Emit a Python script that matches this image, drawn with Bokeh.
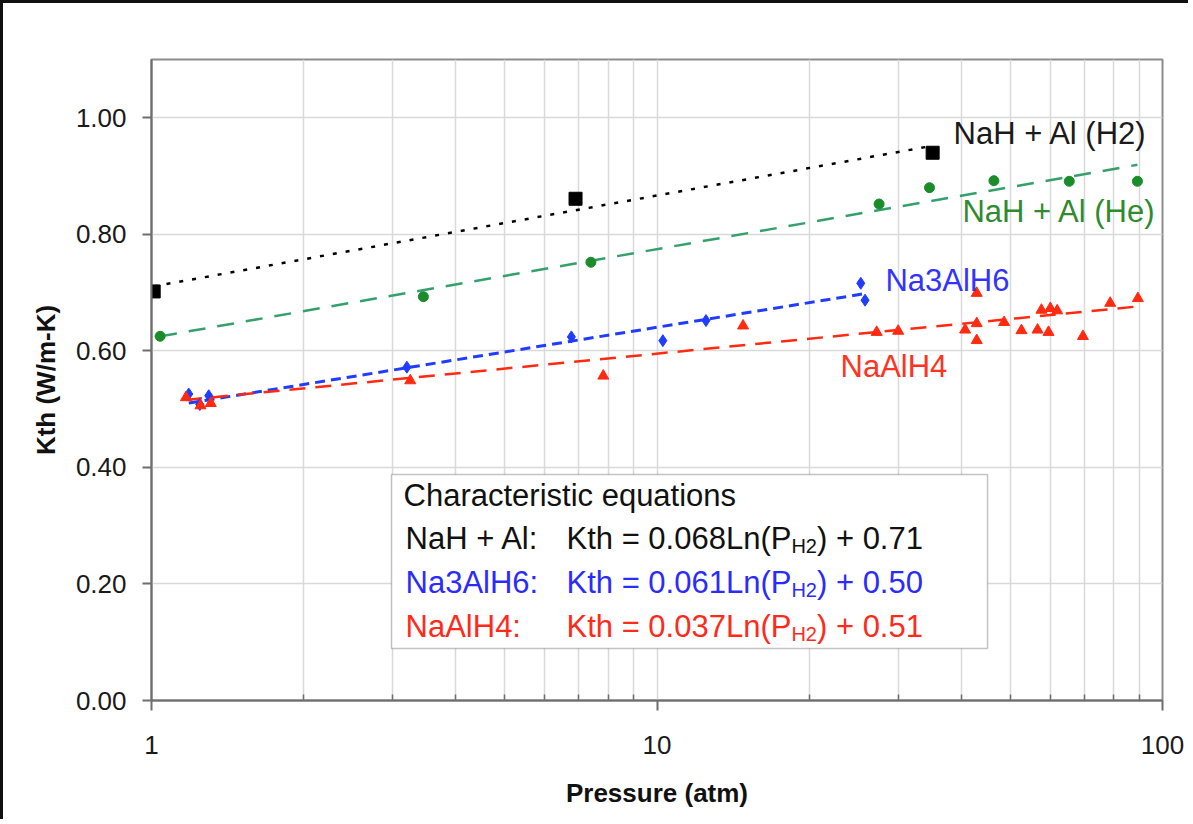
import numpy as np
from bokeh.plotting import figure
from bokeh.models import (FixedTicker, SingleIntervalTicker, NumeralTickFormatter,
                          BoxAnnotation, Range1d, Label)
from bokeh.embed import file_html
from bokeh.resources import INLINE

# ---------------- data ----------------
h2_p = [1.01, 6.9, 35.1]
h2_k = [0.702, 0.861, 0.940]

he_p = [1.04, 3.45, 7.4, 27.5, 34.6, 46.4, 65.4, 89.2]
he_k = [0.625, 0.693, 0.752, 0.852, 0.880, 0.892, 0.891, 0.891]

na3_p = [1.185, 1.246, 1.298, 3.2, 6.77, 10.27, 12.5, 25.3, 25.8]
na3_k = [0.526, 0.508, 0.523, 0.572, 0.624, 0.6175, 0.652, 0.716, 0.687]

na_p = [1.17, 1.25, 1.31, 3.25, 7.83, 14.8, 27.2, 30.0, 40.7, 42.9, 42.9, 42.9,
        48.6, 52.6, 56.6, 57.6, 59.5, 60.0, 61.9, 69.6, 78.8, 89.4]
na_k = [0.520, 0.506, 0.510, 0.549, 0.557, 0.643, 0.632, 0.634, 0.636, 0.699, 0.647, 0.618,
        0.649, 0.635, 0.636, 0.670, 0.632, 0.673, 0.669, 0.625, 0.682, 0.690]

# characteristic equations stated on the chart: Kth = a*Ln(P) + b
eq_names = ["NaH + Al:", "Na3AlH6:", "NaAlH4:"]
eq_slope = [0.068, 0.061, 0.037]
eq_icpt = [0.71, 0.50, 0.51]

x_ticks = [1, 10, 100]
x_minor = [m * d for d in (1, 10) for m in range(2, 10)]

FONT = "Liberation Sans"
C_BLACK = "#000000"
C_GREEN_M = "#1a8c2a"
C_GREEN_L = "#34a06c"
C_GREEN_T = "#2e8b2e"
C_BLUE = "#1f3cff"
C_BLUE_T = "#3333ff"
C_RED = "#ff2a10"
C_RED_T = "#ff3322"

p = figure(width=1188, height=819, x_axis_type="log",
           x_range=Range1d(1, 100), y_range=Range1d(0, 1.10),
           output_backend="svg", toolbar_location=None,
           min_border_left=148, min_border_right=29, min_border_top=56,
           min_border_bottom=122, background_fill_color="white",
           border_fill_color="white")
# outer picture frame: left and top edges
p.styles = {"border-left": "3px solid #111111", "border-top": "3px solid #111111"}

p.outline_line_color = "#8c8c8c"
p.outline_line_width = 2

# axes
xt = FixedTicker(ticks=x_ticks, minor_ticks=x_minor)
p.xaxis.ticker = xt
p.xgrid.ticker = xt
p.xaxis.formatter = NumeralTickFormatter(format="0")
yt = SingleIntervalTicker(interval=0.2, num_minor_ticks=0)
p.yaxis.ticker = yt
p.ygrid.ticker = yt
p.yaxis.formatter = NumeralTickFormatter(format="0.00")

for ax in (p.xaxis[0], p.yaxis[0]):
    ax.axis_line_color = "#6e6e6e"
    ax.axis_line_width = 2
    ax.major_tick_line_color = "#6e6e6e"
    ax.major_tick_line_width = 2
    ax.minor_tick_line_color = "#6e6e6e"
    ax.minor_tick_line_width = 1.5
    ax.major_label_text_font = FONT
    ax.major_label_text_font_size = "26px"
    ax.major_label_text_color = "#1a1a1a"
    ax.axis_label_text_font = FONT
    ax.axis_label_text_font_size = "26px"
    ax.axis_label_text_font_style = "bold"
    ax.axis_label_text_color = "#111111"
    ax.major_tick_in = 0

p.xaxis.major_tick_out = 10
p.xaxis.minor_tick_in = 6
p.xaxis.minor_tick_out = 0
p.xaxis.major_label_standoff = 25
p.xaxis.axis_label = "Pressure (atm)"
p.xaxis.axis_label_standoff = 21

p.yaxis.major_tick_out = 9
p.yaxis.minor_tick_in = 0
p.yaxis.minor_tick_out = 0
p.yaxis.major_label_standoff = 16
p.yaxis.axis_label = "Kth (W/m-K)"
p.yaxis.axis_label_standoff = 12

p.xgrid.grid_line_color = "#d9d9d9"
p.xgrid.grid_line_width = 1.5
p.xgrid.minor_grid_line_color = "#d9d9d9"
p.xgrid.minor_grid_line_width = 1.5
p.ygrid.grid_line_color = "#d9d9d9"
p.ygrid.grid_line_width = 1.5


def trend_from_eq(ps, a, b):
    x = np.array([min(ps), max(ps)])
    return x, a * np.log(x) + b


def trend_fit(ps, ks):
    a, b = np.polyfit(np.log(ps), ks, 1)
    return trend_from_eq(ps, a, b)


# trend lines
tx, ty = trend_from_eq(h2_p, eq_slope[0], eq_icpt[0])
p.line(tx, ty, line_color=C_BLACK, line_width=2.5, line_dash="4 9")
tx, ty = trend_fit(he_p, he_k)
p.line(tx, ty, line_color=C_GREEN_L, line_width=2.5, line_dash="17 12")
tx, ty = trend_from_eq(na3_p, eq_slope[1], eq_icpt[1])
p.line(tx, ty, line_color=C_BLUE, line_width=3, line_dash="10 6")
tx, ty = trend_from_eq(na_p, eq_slope[2], eq_icpt[2])
p.line(tx, ty, line_color=C_RED, line_width=2.5, line_dash="16 10")

# markers
p.scatter(h2_p, h2_k, marker="square", size=13, color=C_BLACK)
p.scatter(he_p, he_k, marker="circle", size=10, color=C_GREEN_M)
p.scatter(na3_p, na3_k, marker="diamond", size=12, color=C_BLUE)
p.scatter(na_p, na_k, marker="triangle", size=11, color=C_RED)

# series labels
for txt, x, y, c in [("NaH + Al (H2)", 38.6, 0.973, "#1a1a1a"),
                     ("NaH + Al (He)", 40.2, 0.839, C_GREEN_T),
                     ("Na3AlH6", 28.3, 0.720, C_BLUE_T),
                     ("NaAlH4", 23.07, 0.573, C_RED_T)]:
    p.add_layout(Label(x=x, y=y, text=txt, text_font=FONT, text_font_size="31px",
                       text_color=c, text_baseline="middle", text_align="left"))

# equations box
p.add_layout(BoxAnnotation(left=2.984, right=45.07, top=0.3877, bottom=0.0892,
                           fill_color="white", fill_alpha=1.0,
                           line_color="#3c3c3c", line_width=1.5, level="overlay"))

ARIAL = {'K': 667, 't': 278, 'h': 556, ' ': 278, '=': 584, '.': 278, 'L': 556,
         'n': 556, '(': 333, 'P': 667, ')': 333, '+': 584, 'H': 722}
for d in "0123456789":
    ARIAL[d] = 556


def tw(s, fs):
    return sum(ARIAL[c] for c in s) / 1000.0 * fs


FS = 31
SUB = 20
p.add_layout(Label(x=3.152, y=0.3516, text="Characteristic equations", text_font=FONT,
                   text_font_size=f"{FS}px", text_color="#111111",
                   text_baseline="middle", level="overlay"))
row_k = [0.2779, 0.2024, 0.1269]
row_c = ["#111111", "#2b2bff", "#ff2a1a"]
for name, a, b, yk, c in zip(eq_names, eq_slope, eq_icpt, row_k, row_c):
    head = f"Kth = {a:.3f}Ln(P"
    tail = f") + {b:.2f}"
    p.add_layout(Label(x=3.181, y=yk, text=name, text_font=FONT, text_font_size=f"{FS}px",
                       text_color=c, text_baseline="middle", level="overlay"))
    p.add_layout(Label(x=6.622, y=yk, text=head, text_font=FONT, text_font_size=f"{FS}px",
                       text_color=c, text_baseline="middle", level="overlay"))
    off1 = tw(head, FS)
    p.add_layout(Label(x=6.622, y=yk, x_offset=off1, y_offset=-7, text="H2", text_font=FONT,
                       text_font_size=f"{SUB}px", text_color=c, text_baseline="middle",
                       level="overlay"))
    off2 = off1 + tw("H2", SUB)
    p.add_layout(Label(x=6.622, y=yk, x_offset=off2, text=tail, text_font=FONT,
                       text_font_size=f"{FS}px", text_color=c, text_baseline="middle",
                       level="overlay"))

open("out.html", "w").write(file_html(p, INLINE))
